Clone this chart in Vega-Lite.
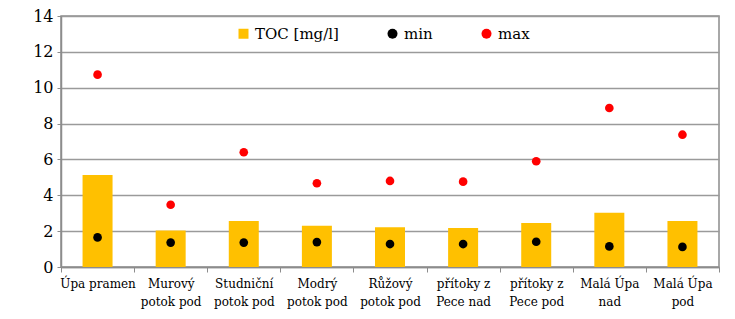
{
  "$schema": "https://vega.github.io/schema/vega-lite/v6.json",
  "width": 658,
  "height": 251,
  "autosize": {"type": "none"},
  "padding": {"left": 61, "top": 16, "right": 16, "bottom": 52},
  "background": "white",
  "config": {
    "font": "DejaVu Serif",
    "view": {"stroke": "#8c8c8c", "strokeWidth": 1.5},
    "axis": {"labelFont": "DejaVu Serif"},
    "legend": {"labelFont": "DejaVu Serif"}
  },
  "data": {
    "values": [
      {"site": "Úpa pramen", "series": "TOC [mg/l]", "value": 5.13},
      {"site": "Úpa pramen", "series": "min", "value": 1.65},
      {"site": "Úpa pramen", "series": "max", "value": 10.73},
      {"site": "Murový\npotok pod", "series": "TOC [mg/l]", "value": 2.03},
      {"site": "Murový\npotok pod", "series": "min", "value": 1.36},
      {"site": "Murový\npotok pod", "series": "max", "value": 3.47},
      {"site": "Studniční\npotok pod", "series": "TOC [mg/l]", "value": 2.56},
      {"site": "Studniční\npotok pod", "series": "min", "value": 1.36},
      {"site": "Studniční\npotok pod", "series": "max", "value": 6.4},
      {"site": "Modrý\npotok pod", "series": "TOC [mg/l]", "value": 2.3},
      {"site": "Modrý\npotok pod", "series": "min", "value": 1.39},
      {"site": "Modrý\npotok pod", "series": "max", "value": 4.67},
      {"site": "Růžový\npotok pod", "series": "TOC [mg/l]", "value": 2.22},
      {"site": "Růžový\npotok pod", "series": "min", "value": 1.28},
      {"site": "Růžový\npotok pod", "series": "max", "value": 4.8},
      {"site": "přítoky z\nPece nad", "series": "TOC [mg/l]", "value": 2.17},
      {"site": "přítoky z\nPece nad", "series": "min", "value": 1.28},
      {"site": "přítoky z\nPece nad", "series": "max", "value": 4.76},
      {"site": "přítoky z\nPece pod", "series": "TOC [mg/l]", "value": 2.45},
      {"site": "přítoky z\nPece pod", "series": "min", "value": 1.41},
      {"site": "přítoky z\nPece pod", "series": "max", "value": 5.9},
      {"site": "Malá Úpa\nnad", "series": "TOC [mg/l]", "value": 3.03},
      {"site": "Malá Úpa\nnad", "series": "min", "value": 1.15},
      {"site": "Malá Úpa\nnad", "series": "max", "value": 8.87},
      {"site": "Malá Úpa\npod", "series": "TOC [mg/l]", "value": 2.57},
      {"site": "Malá Úpa\npod", "series": "min", "value": 1.12},
      {"site": "Malá Úpa\npod", "series": "max", "value": 7.38}
    ]
  },
  "encoding": {
    "x": {
      "field": "site",
      "type": "nominal",
      "sort": null,
      "scale": {"paddingInner": 0, "paddingOuter": 0},
      "axis": {
        "title": null,
        "labelAngle": 0,
        "labelExpr": "isValid(datum.value) ? split(datum.value, '\\n') : ''",
        "labelFontSize": 12,
        "labelLineHeight": 18,
        "labelColor": "black",
        "labelPadding": 6,
        "tickBand": "extent",
        "tickSize": 5,
        "tickColor": "#8c8c8c",
        "domainColor": "#8c8c8c",
        "domainWidth": 1.5,
        "grid": false
      }
    },
    "y": {
      "field": "value",
      "type": "quantitative",
      "scale": {"domain": [0, 14], "nice": false},
      "axis": {
        "title": null,
        "values": [0, 2, 4, 6, 8, 10, 12, 14],
        "labelFontSize": 16,
        "labelColor": "black",
        "labelPadding": 4,
        "tickSize": 4,
        "tickColor": "#8c8c8c",
        "domainColor": "#8c8c8c",
        "domainWidth": 1.5,
        "grid": true,
        "gridColor": "#9a9a9a",
        "gridWidth": 1.3
      }
    },
    "color": {
      "field": "series",
      "type": "nominal",
      "scale": {"domain": ["TOC [mg/l]", "min", "max"], "range": ["#FFC000", "#000000", "#FF0000"]},
      "legend": {
        "title": null,
        "orient": "none",
        "direction": "horizontal",
        "legendX": 175,
        "legendY": 10,
        "padding": 0,
        "columnPadding": 46,
        "symbolSize": 100,
        "symbolOffset": 0,
        "labelOffset": 4,
        "labelFontSize": 15,
        "labelColor": "black"
      }
    }
  },
  "layer": [
    {
      "transform": [{"filter": "datum.series === 'TOC [mg/l]'"}],
      "mark": {"type": "bar", "size": 30}
    },
    {
      "transform": [{"filter": "datum.series !== 'TOC [mg/l]'"}],
      "mark": {"type": "point", "filled": true, "opacity": 1, "size": 75},
      "encoding": {
        "shape": {
          "field": "series",
          "type": "nominal",
          "scale": {"domain": ["TOC [mg/l]", "min", "max"], "range": ["square", "circle", "circle"]},
          "legend": {
            "title": null,
            "orient": "none",
            "direction": "horizontal",
            "legendX": 175,
            "legendY": 10,
            "padding": 0,
            "columnPadding": 46,
            "symbolSize": 100,
            "symbolOffset": 0,
            "labelOffset": 4,
            "labelFontSize": 15,
            "labelColor": "black"
          }
        }
      }
    }
  ]
}
